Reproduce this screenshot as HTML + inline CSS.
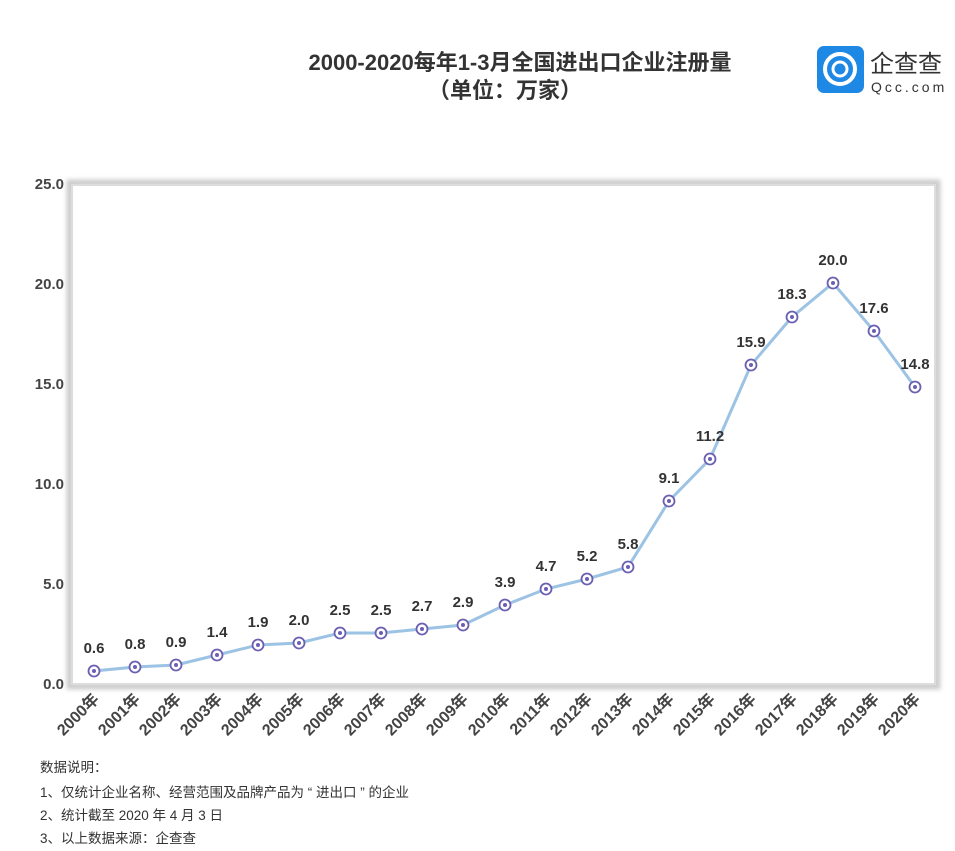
<!DOCTYPE html><html><head><meta charset="utf-8"><style>
body{margin:0;background:#fff;width:955px;height:846px;overflow:hidden;font-family:"Liberation Sans","Noto Sans CJK SC",sans-serif}
</style></head><body>
<svg width="955" height="846" xmlns="http://www.w3.org/2000/svg" xmlns:xlink="http://www.w3.org/1999/xlink" font-family="Liberation Sans, Noto Sans CJK SC, sans-serif">
<defs><filter id="sh" x="-5%" y="-5%" width="110%" height="110%"><feGaussianBlur stdDeviation="2"/></filter>
<g id="m"><circle r="5.5" fill="#fff" stroke="#6a5fb0" stroke-width="1.8"/><circle r="2" fill="#6a5fb0"/></g></defs>
<text x="520" y="70" text-anchor="middle" font-size="22" font-weight="bold" fill="#333">2000-2020每年1-3月全国进出口企业注册量</text>
<text x="505" y="98" text-anchor="middle" font-size="22" font-weight="bold" fill="#333">（单位：万家）</text>
<rect x="817" y="46" width="47" height="47" rx="7" fill="#1e88e5"/>
<circle cx="840" cy="69" r="15" fill="none" stroke="#fff" stroke-width="4"/>
<circle cx="840" cy="69" r="7" fill="none" stroke="#fff" stroke-width="3"/>
<text x="870" y="72" font-size="24" fill="#333">企查查</text>
<text x="871" y="92" font-size="14" fill="#333" letter-spacing="3">Qcc.com</text>
<rect x="70" y="183" width="867" height="503" fill="none" stroke="#ccc" stroke-width="7" filter="url(#sh)"/>
<rect x="72" y="185" width="863" height="499" fill="#fff" stroke="#ddd" stroke-width="2"/>
<g font-size="15" font-weight="bold" fill="#444" text-anchor="end">
<text x="64" y="189">25.0</text><text x="64" y="289">20.0</text><text x="64" y="389">15.0</text><text x="64" y="489">10.0</text><text x="64" y="589">5.0</text><text x="64" y="689">0.0</text>
</g>
<polyline points="94,671 135,667 176,665 217,655 258,645 299,643 340,633 381,633 422,629 463,625 505,605 546,589 587,579 628,567 669,501 710,459 751,365 792,317 833,283 874,331 915,387" fill="none" stroke="#9cc3e4" stroke-width="3"/>
<use xlink:href="#m" x="94" y="671"/><use xlink:href="#m" x="135" y="667"/><use xlink:href="#m" x="176" y="665"/><use xlink:href="#m" x="217" y="655"/><use xlink:href="#m" x="258" y="645"/><use xlink:href="#m" x="299" y="643"/><use xlink:href="#m" x="340" y="633"/><use xlink:href="#m" x="381" y="633"/><use xlink:href="#m" x="422" y="629"/><use xlink:href="#m" x="463" y="625"/><use xlink:href="#m" x="505" y="605"/><use xlink:href="#m" x="546" y="589"/><use xlink:href="#m" x="587" y="579"/><use xlink:href="#m" x="628" y="567"/><use xlink:href="#m" x="669" y="501"/><use xlink:href="#m" x="710" y="459"/><use xlink:href="#m" x="751" y="365"/><use xlink:href="#m" x="792" y="317"/><use xlink:href="#m" x="833" y="283"/><use xlink:href="#m" x="874" y="331"/><use xlink:href="#m" x="915" y="387"/>
<g font-size="15" font-weight="bold" fill="#333" text-anchor="middle">
<text x="94" y="653">0.6</text><text x="135" y="649">0.8</text><text x="176" y="647">0.9</text><text x="217" y="637">1.4</text><text x="258" y="627">1.9</text><text x="299" y="625">2.0</text><text x="340" y="615">2.5</text><text x="381" y="615">2.5</text><text x="422" y="611">2.7</text><text x="463" y="607">2.9</text><text x="505" y="587">3.9</text><text x="546" y="571">4.7</text><text x="587" y="561">5.2</text><text x="628" y="549">5.8</text><text x="669" y="483">9.1</text><text x="710" y="441">11.2</text><text x="751" y="347">15.9</text><text x="792" y="299">18.3</text><text x="833" y="265">20.0</text><text x="874" y="313">17.6</text><text x="915" y="369">14.8</text>
</g>
<g font-size="16" font-weight="bold" fill="#444" text-anchor="end">
<text transform="translate(100,700) rotate(-45)">2000年</text><text transform="translate(141,700) rotate(-45)">2001年</text><text transform="translate(182,700) rotate(-45)">2002年</text><text transform="translate(223,700) rotate(-45)">2003年</text><text transform="translate(264,700) rotate(-45)">2004年</text><text transform="translate(305,700) rotate(-45)">2005年</text><text transform="translate(346,700) rotate(-45)">2006年</text><text transform="translate(387,700) rotate(-45)">2007年</text><text transform="translate(428,700) rotate(-45)">2008年</text><text transform="translate(469,700) rotate(-45)">2009年</text><text transform="translate(511,700) rotate(-45)">2010年</text><text transform="translate(552,700) rotate(-45)">2011年</text><text transform="translate(593,700) rotate(-45)">2012年</text><text transform="translate(634,700) rotate(-45)">2013年</text><text transform="translate(675,700) rotate(-45)">2014年</text><text transform="translate(716,700) rotate(-45)">2015年</text><text transform="translate(757,700) rotate(-45)">2016年</text><text transform="translate(798,700) rotate(-45)">2017年</text><text transform="translate(839,700) rotate(-45)">2018年</text><text transform="translate(880,700) rotate(-45)">2019年</text><text transform="translate(921,700) rotate(-45)">2020年</text>
</g>
<g font-size="13.5" fill="#333">
<text x="40" y="772">数据说明：</text>
<text x="40" y="797">1、仅统计企业名称、经营范围及品牌产品为 “ 进出口 ” 的企业</text>
<text x="40" y="820">2、统计截至 2020 年 4 月 3 日</text>
<text x="40" y="843">3、以上数据来源：企查查</text>
</g>
</svg></body></html>
